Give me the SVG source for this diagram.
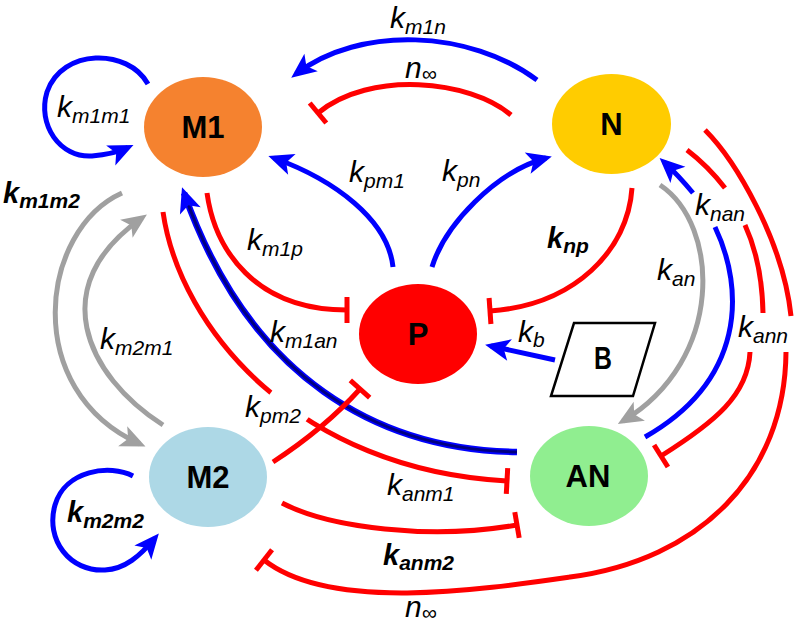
<svg xmlns="http://www.w3.org/2000/svg" width="795" height="627" viewBox="0 0 795 627">
<style>
.c{fill:none;stroke-width:5}
.bl{stroke:#0000FF}
.rd{stroke:#FF0000}
.gr{stroke:#A0A0A0}
.k{font-family:"Liberation Sans",Arial,sans-serif;font-style:italic;font-size:30px;fill:#000}
.kb{font-family:"Liberation Sans",Arial,sans-serif;font-style:italic;font-weight:bold;font-size:29px;fill:#000}
.s{font-size:21px}
.nt{font-family:"Liberation Sans",Arial,sans-serif;font-weight:bold;font-size:31px;fill:#000;text-anchor:middle}
</style>
<defs>
<marker id="ab" viewBox="-20 -12 27 24" refX="0" refY="0" markerWidth="27" markerHeight="24" markerUnits="userSpaceOnUse" orient="auto"><path d="M6,0 L-19,-11 L-13,0 L-19,11 Z" fill="#0000FF"/></marker>
<marker id="ag" viewBox="-20 -12 27 24" refX="0" refY="0" markerWidth="27" markerHeight="24" markerUnits="userSpaceOnUse" orient="auto"><path d="M6,0 L-19,-11 L-13,0 L-19,11 Z" fill="#A0A0A0"/></marker>
<marker id="tb" viewBox="-3 -14 6 28" refX="0" refY="0" markerWidth="6" markerHeight="28" markerUnits="userSpaceOnUse" orient="auto"><path d="M0,-13 V13" stroke="#FF0000" stroke-width="5"/></marker>
<mask id="gapA" maskUnits="userSpaceOnUse" x="0" y="0" width="795" height="627"><rect width="795" height="627" fill="#fff"/><rect x="-22.5" y="-12" width="45" height="24" transform="translate(289 406) rotate(36.5)" fill="#000"/></mask>
</defs>
<g id="connectors">
<path class="c bl" d="M 537 80 C 470 30 360 25 296 74" marker-end="url(#ab)"/>
<path class="c rd" d="M 511 115 C 470 80 370 70 318 113" marker-end="url(#tb)"/>
<path class="c bl" d="M 393 267 C 388 220 335 180 274 158" marker-end="url(#ab)"/>
<path class="c bl" d="M 432 267 C 445 225 495 172 546 158" marker-end="url(#ab)"/>
<path class="c rd" d="M 207 193 C 215 250 255 310 347 310" marker-end="url(#tb)"/>
<path class="c rd" d="M 632 188 C 628 250 575 305 490 311" marker-end="url(#tb)"/>
<path class="c bl" d="M 148 84 C 128 48 62 48 47 92 C 37 125 60 158 92 156 C 104 155 116 153 128 147.5" marker-end="url(#ab)"/>
<path class="c bl" d="M 133 476 C 110 464 65 470 55 505 C 45 540 70 572 105 570 C 125 569 140 556 155 538" marker-end="url(#ab)"/>
<path class="c gr" d="M 122 193 C 40 230 20 390 140 444" marker-end="url(#ag)"/>
<path class="c gr" d="M 163 425 C 85 375 45 285 142 218" marker-end="url(#ag)"/>
<path class="c rd" d="M 163 212 C 180 330 300 470 507 481" marker-end="url(#tb)" mask="url(#gapA)"/>
<path fill="none" stroke="#0000FF" stroke-width="6.5" d="M 517 452 C 380 450 250 380 184 193"/>
<path fill="none" stroke="#000080" stroke-width="3" d="M 517 452 C 380 450 250 380 184 193"/>
<path fill="none" stroke="none" d="M 517 452 C 380 450 250 380 184 193" marker-end="url(#ab)"/>
<path class="c rd" d="M 273 462 Q 325 428 360 389" marker-end="url(#tb)"/>
<path class="c rd" d="M 282 503 C 330 528 430 540 517 525" marker-end="url(#tb)"/>
<path class="c rd" d="M 705 130 C 735 160 783 240 791 316"/>
<path class="c rd" d="M 786 352 C 785 475 700 560 570 577 C 480 590 330 612 264 560" marker-end="url(#tb)"/>
<path class="c gr" d="M 660 185 C 720 225 725 360 623 421" marker-end="url(#ag)"/>
<path class="c bl" d="M 693 193 Q 678 175 664 162" marker-end="url(#ab)"/>
<path class="c bl" d="M 715 227 C 745 290 745 380 645 437"/>
<path class="c rd" d="M 687 150 Q 708 166 725 188"/>
<path class="c rd" d="M 745 225 Q 762 262 763 313"/>
<path class="c rd" d="M 750 352 C 748 395 715 422 661 456" marker-end="url(#tb)"/>
<path class="c bl" d="M 555 360 L 491 346" marker-end="url(#ab)"/>
<text class="k" x="390" y="28">k<tspan class="s" dy="6">m1n</tspan></text>
<text class="k" x="405" y="78">n<tspan class="s" dy="3">∞</tspan></text>
<text class="k" x="57" y="117">k<tspan class="s" dy="6">m1m1</tspan></text>
<text class="kb" x="3" y="203">k<tspan class="s" dy="5">m1m2</tspan></text>
<text class="k" x="349" y="182">k<tspan class="s" dy="6">pm1</tspan></text>
<text class="k" x="442" y="181">k<tspan class="s" dy="6">pn</tspan></text>
<text class="k" x="247" y="250">k<tspan class="s" dy="6">m1p</tspan></text>
<text class="kb" x="547" y="248">k<tspan class="s" dy="5">np</tspan></text>
<text class="k" x="100" y="349">k<tspan class="s" dy="6">m2m1</tspan></text>
<text class="k" x="270" y="342">k<tspan class="s" dy="6">m1an</tspan></text>
<text class="k" x="245" y="417">k<tspan class="s" dy="6">pm2</tspan></text>
<text class="k" x="387" y="495">k<tspan class="s" dy="6">anm1</tspan></text>
<text class="kb" x="383" y="565">k<tspan class="s" dy="5">anm2</tspan></text>
<text class="k" x="405" y="617">n<tspan class="s" dy="3">∞</tspan></text>
<text class="kb" x="67" y="522">k<tspan class="s" dy="6">m2m2</tspan></text>
<text class="k" x="518" y="342">k<tspan class="s" dy="5">b</tspan></text>
<text class="k" x="657" y="280">k<tspan class="s" dy="6">an</tspan></text>
<text class="k" x="695" y="215">k<tspan class="s" dy="6">nan</tspan></text>
<text class="k" x="738" y="337">k<tspan class="s" dy="6">ann</tspan></text>
</g>
<g id="node-M1"><ellipse cx="203" cy="127" rx="59" ry="50" fill="#F5822F"/><text class="nt" x="203" y="138">M1</text></g>
<g id="node-N"><ellipse cx="611.5" cy="124" rx="59.5" ry="50" fill="#FFCC00"/><text class="nt" x="611.5" y="135">N</text></g>
<g id="node-P"><ellipse cx="418" cy="334" rx="59" ry="50" fill="#FF0000"/><text class="nt" x="418" y="345">P</text></g>
<g id="node-M2"><ellipse cx="208" cy="477" rx="59" ry="50" fill="#ADD8E6"/><text class="nt" x="208" y="488">M2</text></g>
<g id="node-AN"><ellipse cx="589" cy="476" rx="59" ry="50" fill="#90EE90"/><text class="nt" x="588" y="487">AN</text></g>
<g id="node-B"><polygon points="574,323 655,323 633,396 551,396" fill="#FFFFFF" stroke="#000" stroke-width="2.5"/><text class="nt" x="0" y="0" font-size="36" transform="translate(603 369) scale(0.8 1)">B</text></g>
</svg>
